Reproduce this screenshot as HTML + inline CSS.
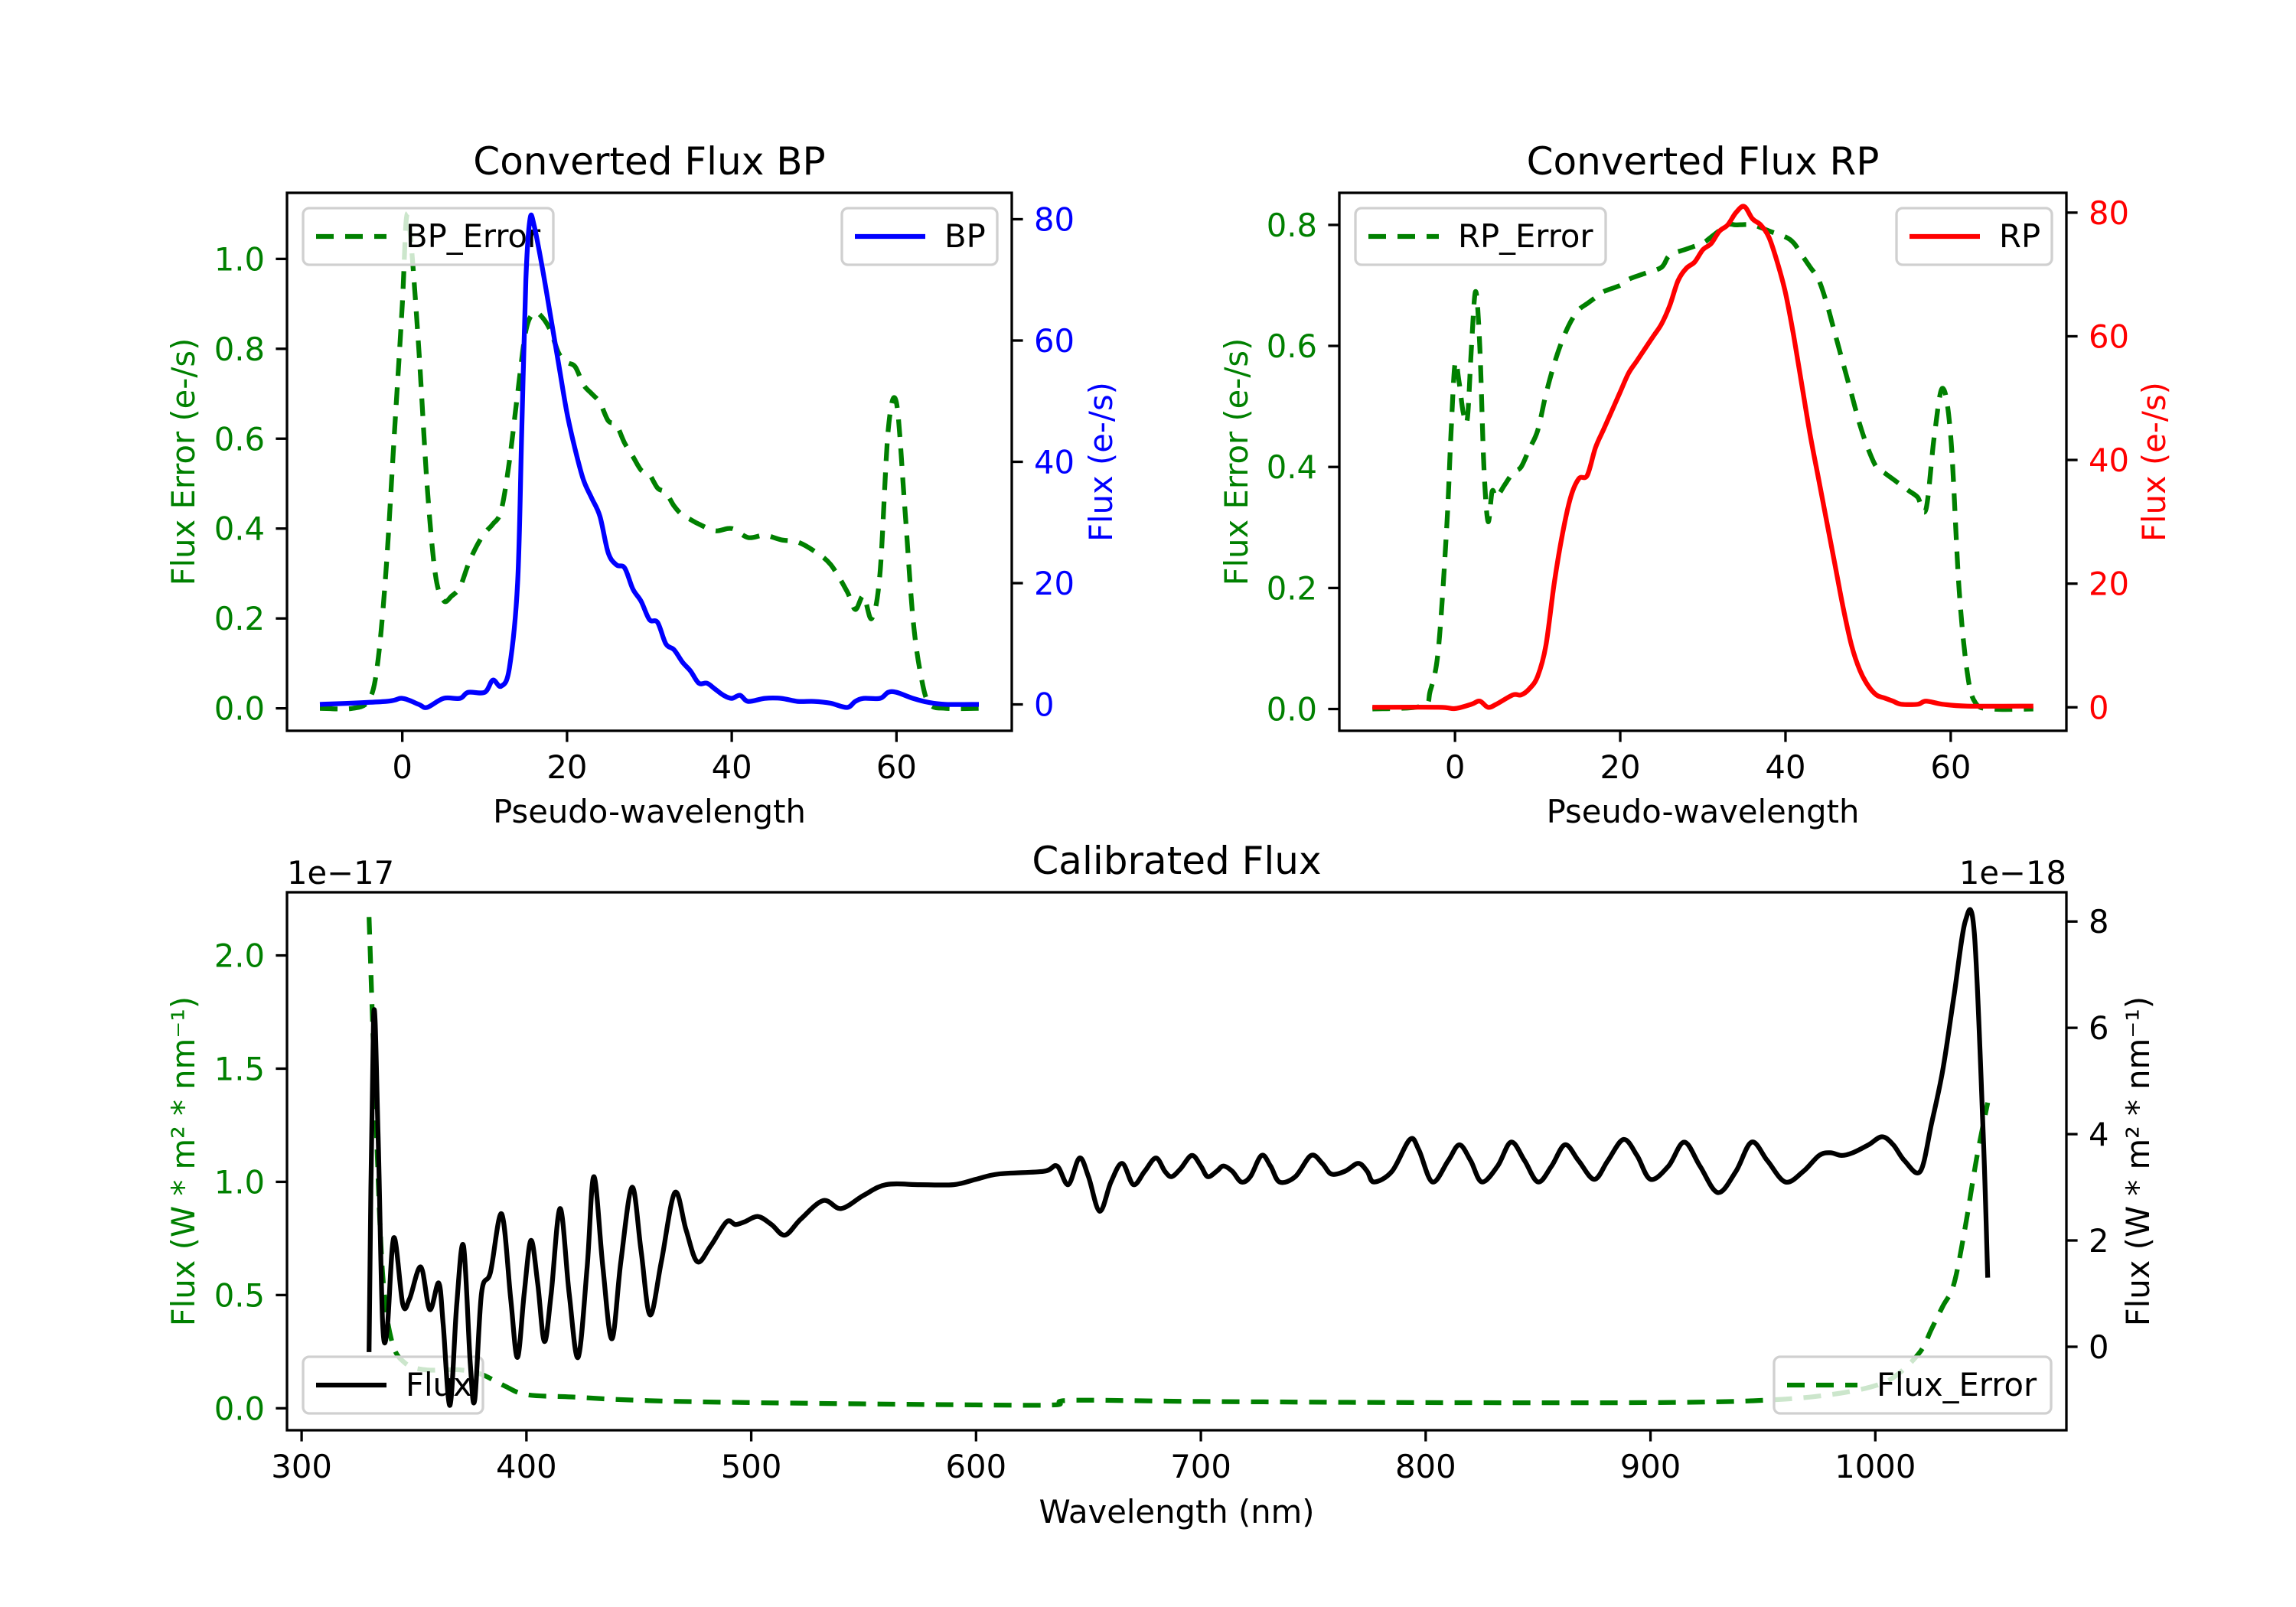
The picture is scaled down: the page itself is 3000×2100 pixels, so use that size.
<!DOCTYPE html>
<html><head><meta charset="utf-8">
<style>
html,body{margin:0;padding:0;background:#fff;}
svg{display:block;font-family:"DejaVu Sans","Liberation Sans",sans-serif;}
</style></head>
<body>
<svg id="fig" xmlns="http://www.w3.org/2000/svg" width="3000" height="2100" viewBox="0 0 3000 2100">
<rect width="3000" height="2100" fill="#fff"/>
</svg>
<script>
// ---- BP data ----
const bpX = [-10,-2,0,2,3,5,7,8,10,11,12,13,14,14.5,15,15.5,16,17,18,19,20,21,22,23,24,25,26,27,28,29,30,31,32,33,34,35,36,37,38,39,40,41,42,44,46,48,50,52,54,55,56,58,59,60,62,64,66,70];
const bpFlux = [0,0.5,1,0,-0.5,1,1,2,2,4,3,6,20,45,70,80,79,72,64,56,48,42,37,34,31,25,23,22.5,19,17,14,13.5,10,9,7,5.5,3.5,3.5,2.5,1.5,1,1.5,0.5,1,1,0.5,0.5,0.2,-0.5,0.5,1,1,2,2,1,0.3,0,0];
const bpErrX = [-10,-6,-4,-3,-2,-1,0,0.5,1,2,3,4,5,6,7,8,9,10,11,12,13,14,15,16,17,18,19,20,21,22,23,24,25,26,27,28,29,30,31,32,33,34,35,36,38,40,42,44,46,48,50,52,54,55,56,57,58,59,60,61,62,63,64,66,70];
const bpErr = [0,0,0.02,0.1,0.3,0.6,0.9,1.09,1.05,0.8,0.5,0.3,0.24,0.25,0.27,0.32,0.36,0.39,0.41,0.44,0.55,0.7,0.84,0.88,0.87,0.84,0.79,0.77,0.76,0.72,0.7,0.68,0.64,0.63,0.59,0.56,0.53,0.52,0.49,0.48,0.45,0.43,0.42,0.41,0.395,0.4,0.38,0.385,0.375,0.37,0.35,0.32,0.26,0.22,0.25,0.2,0.3,0.62,0.68,0.45,0.2,0.07,0.01,0,0];
// ---- RP data ----
const rpX = [-10,-2,0,2,3,4,5,7,8,9,10,11,12,13,14,15,16,17,18,19,20,21,22,23,24,25,26,27,28,29,30,31,32,33,34,35,36,37,38,39,40,41,42,43,44,45,46,47,48,49,50,51,52,53,54,56,57,59,62,70];
const rpFlux = [0,0,-0.2,0.5,1,0,0.5,2,2,3,5,10,20,28,34,37,37.5,42,45,48,51,54,56,58,60,62,65,69,71,72,74,75,77,78,80,81,79,78,76,72,67,60,52,44,37,30,23,16,10,6,3.5,2,1.5,1,0.5,0.5,1,0.5,0.2,0.2];
const rpErrX = [-10,-4,-3,-2,-1,-0.5,0,0.5,1,1.5,2,2.5,3,3.5,4,4.5,5,6,7,8,9,10,11,12,13,14,15,16,17,18,20,21,23,25,26,28,30,31,33,34,36,38,40,41,42,43,44,45,46,47,48,49,50,51,52,53,54,55,56,57,58,59,60,61,62,63,65,70];
const rpErr = [0,0.005,0.03,0.1,0.3,0.45,0.57,0.54,0.49,0.48,0.6,0.69,0.6,0.4,0.31,0.36,0.35,0.37,0.39,0.4,0.43,0.46,0.52,0.57,0.61,0.64,0.66,0.67,0.68,0.69,0.7,0.71,0.72,0.73,0.75,0.76,0.77,0.78,0.8,0.8,0.8,0.79,0.78,0.77,0.75,0.73,0.71,0.67,0.62,0.57,0.52,0.47,0.43,0.4,0.39,0.38,0.37,0.36,0.35,0.33,0.45,0.53,0.45,0.2,0.06,0.01,0,0];
// ---- Calibrated data ----
const calX = [330,332,334,336,338,341,345,348,353,357,361,363,366,369,372,375,377,380,384,389,393,396,399,402,405,408,411,415,419,423,427,430,434,438,442,447,451,455,460,466,471,476,482,489,493,497,503,509,515,522,532,540,550,560,575,590,600,610,630,636,641,646,650,655,660,665,670,675,680,684,687,691,696,700,703,707,710,714,718,722,727,731,735,742,749,754,758,764,770,774,777,785,793,797,803,810,815,820,825,832,838,844,850,856,862,868,875,881,888,894,900,908,915,922,930,938,945,952,960,968,975,980,985,990,997,1003,1008,1013,1020,1025,1030,1035,1040,1044,1048,1050];
const calFlux = [-0.1,6.2,4,0.5,0.3,2.05,0.8,0.9,1.5,0.7,1.2,0.4,-1.1,0.8,1.9,-0.3,-1.0,1.0,1.4,2.5,0.9,-0.2,1.0,2.0,1.2,0.1,1.0,2.6,1.0,-0.2,1.5,3.2,1.5,0.15,1.6,3.0,1.8,0.6,1.6,2.9,2.2,1.6,1.9,2.35,2.3,2.35,2.45,2.3,2.1,2.4,2.75,2.6,2.85,3.05,3.05,3.05,3.15,3.25,3.3,3.4,3.05,3.55,3.2,2.55,3.1,3.45,3.05,3.3,3.55,3.3,3.2,3.35,3.6,3.4,3.2,3.3,3.4,3.3,3.1,3.2,3.6,3.4,3.1,3.2,3.6,3.45,3.25,3.3,3.45,3.3,3.1,3.3,3.9,3.7,3.1,3.5,3.8,3.5,3.1,3.4,3.85,3.5,3.1,3.4,3.8,3.5,3.15,3.5,3.9,3.6,3.15,3.4,3.85,3.4,2.9,3.3,3.85,3.5,3.1,3.3,3.6,3.65,3.6,3.65,3.8,3.95,3.8,3.5,3.3,4.2,5.2,6.6,8.0,7.8,4.0,1.3];
const errX = [330,333,336,340,346,355,370,380,390,400,420,450,500,600,635,642,700,800,900,950,980,1000,1010,1020,1025,1030,1035,1040,1045,1050];
const calErr = [2.17,1.3,0.6,0.3,0.2,0.17,0.17,0.15,0.1,0.06,0.05,0.035,0.025,0.015,0.015,0.035,0.03,0.025,0.025,0.035,0.06,0.1,0.15,0.25,0.35,0.45,0.55,0.8,1.1,1.35];
const pseudoTicks = [0,20,40,60];
const bpErrTicks = ["0.0","0.2","0.4","0.6","0.8","1.0"];
const bpTicks = [0,20,40,60,80];
const rpErrTicks = ["0.0","0.2","0.4","0.6","0.8"];
const rpTicks = [0,20,40,60,80];
const wlTicks = [300,400,500,600,700,800,900,1000];
const calErrTicks = ["0.0","0.5","1.0","1.5","2.0"];
const calTicks = [0,2,4,6,8];

const NS = "http://www.w3.org/2000/svg";
const svg = document.getElementById('fig');
function mk(tag, parent){ const e=document.createElementNS(NS,tag); (parent||svg).appendChild(e); return e; }
function scale(d0,d1,p0,p1){ return v => p0 + (v-d0)*(p1-p0)/(d1-d0); }
const FS = 41.7, GREEN="#008000";

function pathFrom(xs, ys, sx, sy){
  const P = xs.map((x,i)=>[sx(x), sy(ys[i])]);
  let d = 'M'+P[0][0].toFixed(1)+','+P[0][1].toFixed(1);
  for (let i=0;i<P.length-1;i++){
    const p0=P[Math.max(0,i-1)], p1=P[i], p2=P[i+1], p3=P[Math.min(P.length-1,i+2)];
    const c1x=p1[0]+(p2[0]-p0[0])/6, c1y=p1[1]+(p2[1]-p0[1])/6;
    const c2x=p2[0]-(p3[0]-p1[0])/6, c2y=p2[1]-(p3[1]-p1[1])/6;
    d += 'C'+c1x.toFixed(1)+','+c1y.toFixed(1)+' '+c2x.toFixed(1)+','+c2y.toFixed(1)+' '+p2[0].toFixed(1)+','+p2[1].toFixed(1);
  }
  return d;
}

function drawLine(g, xs, ys, sx, sy, color, dashed, name){
  const p = mk('path', g);
  
  
  p.setAttribute('d', pathFrom(xs, ys, sx, sy));
  p.setAttribute('fill','none'); p.setAttribute('stroke',color); p.setAttribute('stroke-width','6.25');
  p.setAttribute('stroke-linejoin','round');
  if (dashed) p.setAttribute('stroke-dasharray','23 15');
}
function text(str, x, y, opts){
  const t = mk('text');
  
  
  t.textContent = str;
  t.setAttribute('x', x); t.setAttribute('y', y);
  t.setAttribute('font-size', opts.size||FS);
  t.setAttribute('fill', opts.color||'#000');
  t.setAttribute('text-anchor', opts.anchor||'middle');
  if (opts.rot) t.setAttribute('transform','rotate('+opts.rot+' '+x+' '+y+')');
  return t;
}
function tick(x1,y1,x2,y2,color){
  const l = mk('line');
  
  
  l.setAttribute('x1',x1);l.setAttribute('y1',y1);l.setAttribute('x2',x2);l.setAttribute('y2',y2);
  l.setAttribute('stroke',color||'#000');l.setAttribute('stroke-width','3.3');
}
function frame(L,T,R,B,name){
  const r = mk('rect');
  
  
  r.setAttribute('x',L);r.setAttribute('y',T);r.setAttribute('width',R-L);r.setAttribute('height',B-T);
  r.setAttribute('fill','none');r.setAttribute('stroke','#000');r.setAttribute('stroke-width','3.3');
}
function legend(x, y, w, label, color, dashed, name){
  const g = mk('g');
  
  
  const r = mk('rect', g);
  r.setAttribute('x',x);r.setAttribute('y',y);r.setAttribute('width',w);r.setAttribute('height',74);r.setAttribute('rx',8);
  r.setAttribute('fill','rgba(255,255,255,0.8)');r.setAttribute('stroke','#d0d0d0');r.setAttribute('stroke-width','3.3');
  const l = mk('line', g);
  l.setAttribute('x1',x+17);l.setAttribute('x2',x+109);l.setAttribute('y1',y+37);l.setAttribute('y2',y+37);
  l.setAttribute('stroke',color);l.setAttribute('stroke-width','6.25');
  if (dashed) l.setAttribute('stroke-dasharray','23 15');
  const t = mk('text', g);
  t.textContent = label;
  t.setAttribute('x', x+134); t.setAttribute('y', y+51); t.setAttribute('font-size', FS);
}
function clipFor(id,L,T,R,B){
  const c = mk('clipPath'); c.setAttribute('id',id);
  const r = mk('rect', c); r.setAttribute('x',L);r.setAttribute('y',T);r.setAttribute('width',R-L);r.setAttribute('height',B-T);
  const g = mk('g'); g.setAttribute('clip-path','url(#'+id+')');
  return g;
}

// ===== Top panels =====
function topPanel(cfg){
  const {L,R,T,B} = cfg;
  const sx = scale(-14,74,L,R);
  const sy1 = scale(cfg.y1[0],cfg.y1[1],B,T);
  const sy2 = scale(cfg.y2[0],cfg.y2[1],B,T);
  const g1 = clipFor(cfg.id+'c1',L,T,R,B);
   
  drawLine(g1, cfg.ex, cfg.ey, sx, sy1, GREEN, true, cfg.id+'-error-line');
  legend(L+21, T+20, 327, cfg.errLabel, GREEN, true, cfg.id+'-error-legend');
  const g2 = clipFor(cfg.id+'c2',L,T,R,B);
   
  drawLine(g2, cfg.fx, cfg.fy, sx, sy2, cfg.color, false, cfg.id+'-flux-line');
  legend(R-222, T+20, 203, cfg.fluxLabel, cfg.color, false, cfg.id+'-flux-legend');
  frame(L,T,R,B, cfg.id+'-axes-frame');
  pseudoTicks.forEach(v=>{ tick(sx(v),B,sx(v),B+14.6); text(String(v), sx(v), B+62, {name:'x-tick-label'}); });
  cfg.lt.forEach(s=>{ const y=sy1(+s); tick(L,y,L-14.6,y); text(s, L-29, y+15, {name:'left-y-tick-label', anchor:'end', color:GREEN}); });
  cfg.rt.forEach(v=>{ const y=sy2(v); tick(R,y,R+14.6,y); text(String(v), R+29, y+15, {name:'right-y-tick-label', anchor:'start', color:cfg.color}); });
  text('Pseudo-wavelength', (L+R)/2, 1075, {name:'x-axis-title'});
  text('Flux Error (e-/s)', cfg.lyx, (T+B)/2, {name:'left-y-axis-title', color:GREEN, rot:-90});
  text('Flux (e-/s)', cfg.ryx, (T+B)/2, {name:'right-y-axis-title', color:cfg.color, rot:-90});
  text(cfg.title, (L+R)/2, 228, {name:'panel-title', size:50});
}
topPanel({id:'bp', L:375,R:1322,T:252,B:955, y1:[-0.05,1.147], y2:[-4.35,84.35], ex:bpErrX, ey:bpErr, fx:bpX, fy:bpFlux, color:'#0000ff', errLabel:'BP_Error', fluxLabel:'BP', lt:bpErrTicks, rt:bpTicks, lyx:254, ryx:1453, title:'Converted Flux BP'});
topPanel({id:'rp', L:1750,R:2700,T:252,B:955, y1:[-0.036,0.853], y2:[-3.8,83.2], ex:rpErrX, ey:rpErr, fx:rpX, fy:rpFlux, color:'#ff0000', errLabel:'RP_Error', fluxLabel:'RP', lt:rpErrTicks, rt:rpTicks, lyx:1630, ryx:2829, title:'Converted Flux RP'});

// ===== Bottom panel =====
(function(){
  const L=375,R=2700,T=1166,B=1869;
  const sx = scale(293.5,1085,L,R);
  const sy1 = scale(-0.097,2.279,B,T);
  const sy2 = scale(-1.57,8.55,B,T);
  const g1 = clipFor('calc1',L,T,R,B);
   
  drawLine(g1, errX, calErr, sx, sy1, GREEN, true, 'flux-error-line');
  legend(L+21, B-96, 235, 'Flux', '#000', false, 'flux-legend');
  legend(R-382, B-96, 362, 'Flux_Error', GREEN, true, 'flux-error-legend');
  const g2 = clipFor('calc2',L,T,R,B);
   
  drawLine(g2, calX, calFlux, sx, sy2, '#000', false, 'flux-line');
  frame(L,T,R,B,'cal-axes-frame');
  wlTicks.forEach(v=>{ tick(sx(v),B,sx(v),B+14.6); text(String(v), sx(v), B+62, {name:'x-tick-label'}); });
  calErrTicks.forEach(s=>{ const y=sy1(+s); tick(L,y,L-14.6,y); text(s, L-29, y+15, {name:'left-y-tick-label', anchor:'end', color:GREEN}); });
  calTicks.forEach(v=>{ const y=sy2(v); tick(R,y,R+14.6,y); text(String(v), R+29, y+15, {name:'right-y-tick-label', anchor:'start'}); });
  text('Wavelength (nm)', (L+R)/2, 1990, {name:'x-axis-title'});
  text('Flux (W * m² * nm⁻¹)', 254, (T+B)/2, {name:'left-y-axis-title', color:GREEN, rot:-90});
  text('Flux (W * m² * nm⁻¹)', 2808, (T+B)/2, {name:'right-y-axis-title', rot:-90});
  text('1e−17', L, 1155, {name:'left-offset-text', anchor:'start'});
  text('1e−18', R, 1155, {name:'right-offset-text', anchor:'end'});
  text('Calibrated Flux', (L+R)/2, 1142, {name:'panel-title', size:50});
})();
</script>
</body></html>
